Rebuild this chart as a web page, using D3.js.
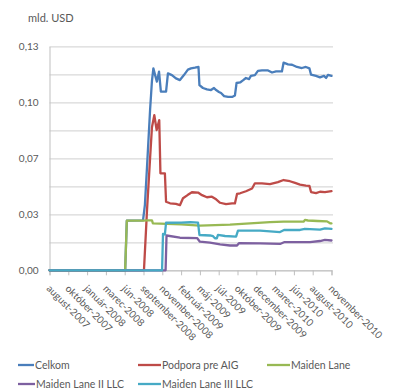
<!DOCTYPE html>
<html>
<head>
<meta charset="utf-8">
<script src="https://cdn.jsdelivr.net/npm/d3@7"></script>
<style>
  html, body { margin: 0; padding: 0; background: #fff; }
  svg { display: block; font-family: Lato, "Open Sans", sans-serif; }
  text { fill: #595959; }
</style>
</head>
<body>
<svg id="chart" width="398" height="392"></svg>
<script>
// Days are counted from 1 August 2007; values are in billions of USD.
const xTickDays = [0, 80, 160, 240, 320, 400, 480, 560, 640, 720, 800, 880, 960, 1040, 1120, 1200];
const xTickLabels = ["august-2007", "október-2007", "január-2008", "marec-2008", "jún-2008",
  "september-2008", "november-2008", "február-2009", "máj-2009", "júl-2009", "október-2009",
  "december-2009", "marec-2010", "jún-2010", "august-2010", "november-2010"];

const gridValues = [0, 0.01625, 0.0325, 0.04875, 0.065, 0.08125, 0.0975, 0.11375, 0.13];
const yTickValues = [0, 0.0325, 0.065, 0.0975, 0.13];
const yTickLabels = ["0,00", "0,03", "0,07", "0,10", "0,13"];

const seriesNames = ["Celkom", "Podpora pre AIG", "Maiden Lane", "Maiden Lane II LLC", "Maiden Lane III LLC"];
const seriesColors = ["#4A7EBB", "#BE4B48", "#98B954", "#7D60A0", "#46AAC5"];

const celkom = [[0,0],[322,0],[329,0.0288],[398,0.029],[406,0.038],[415,0.060],[428,0.093],[436,0.110],
  [442,0.1172],[450,0.113],[457,0.1095],[466,0.1153],[474,0.1037],[496,0.1037],[504,0.1143],[521,0.1133],
  [538,0.1114],[555,0.1104],[572,0.1133],[589,0.1165],[602,0.1172],[619,0.1176],[634,0.118],[638,0.1075],
  [653,0.1058],[670,0.105],[687,0.1046],[700,0.1058],[709,0.1046],[721,0.1035],[730,0.1029],[743,0.1011],
  [760,0.1006],[777,0.1006],[789,0.1014],[796,0.1087],[811,0.109],[823,0.1102],[836,0.1116],[849,0.111],
  [857,0.1128],[874,0.1133],[887,0.1157],[904,0.116],[930,0.116],[947,0.1148],[964,0.1154],[989,0.1154],
  [996,0.1205],[1015,0.1195],[1032,0.1193],[1053,0.118],[1074,0.1174],[1091,0.118],[1106,0.1172],
  [1113,0.1135],[1134,0.1128],[1151,0.112],[1168,0.1128],[1177,0.1116],[1185,0.1134],[1200,0.1128]];

const podporaAIG = [[0,0],[402,0],[415,0.035],[428,0.065],[436,0.083],[446,0.090],[456,0.0814],[467,0.0872],
  [472,0.0563],[491,0.0563],[496,0.0398],[513,0.0389],[538,0.0385],[555,0.0378],[568,0.0418],[589,0.0438],
  [606,0.0453],[632,0.0451],[649,0.0436],[670,0.0424],[691,0.0427],[709,0.0412],[726,0.0392],[751,0.0384],
  [777,0.0388],[789,0.0388],[798,0.0443],[811,0.0447],[836,0.0459],[862,0.0475],[874,0.0505],[904,0.0505],
  [938,0.050],[972,0.0512],[996,0.0524],[1023,0.0517],[1045,0.0507],[1066,0.0497],[1091,0.0492],
  [1106,0.049],[1113,0.0454],[1134,0.0448],[1151,0.0456],[1172,0.0454],[1200,0.0459]];

const maidenLane = [[0,0],[322,0],[329,0.0288],[400,0.0288],[415,0.029],[436,0.029],[440,0.0272],
  [560,0.0266],[640,0.0259],[768,0.0265],[938,0.028],[996,0.0282],[1081,0.0282],[1087,0.0292],
  [1100,0.0289],[1140,0.0286],[1181,0.0284],[1194,0.0273],[1200,0.0272]];

const maidenLaneII = [[0,0],[494,0],[498,0.0202],[555,0.0189],[628,0.0187],[640,0.0166],[683,0.0161],
  [726,0.0151],[768,0.0144],[798,0.0144],[806,0.0157],[896,0.0156],[981,0.0153],[998,0.0163],
  [1108,0.0164],[1151,0.017],[1172,0.0176],[1200,0.0173]];

const maidenLaneIII = [[0,0],[479,0],[483,0.0211],[491,0.0208],[496,0.0276],[560,0.0277],[600,0.0279],
  [632,0.0277],[638,0.0205],[683,0.0202],[696,0.0198],[704,0.0186],[712,0.0186],[717,0.0205],[747,0.0199],
  [794,0.0195],[802,0.023],[896,0.023],[981,0.0222],[998,0.0234],[1066,0.0234],[1087,0.0241],
  [1151,0.0236],[1172,0.0243],[1200,0.024]];

const seriesData = [celkom, podporaAIG, maidenLane, maidenLaneII, maidenLaneIII];

const svg = d3.select("#chart");
const plot = { left: 49.5, right: 331.5, top: 46.3, bottom: 270.3 };

const x = d3.scaleLinear().domain([0, 1200]).range([plot.left, plot.right]);
const y = d3.scaleLinear().domain([0, 0.13]).range([plot.bottom, plot.top]);

// unit label
svg.append("text").attr("x", 28).attr("y", 22).attr("font-size", 11).text("mld. USD");

// horizontal gridlines
svg.append("g")
  .attr("transform", `translate(${plot.left},0)`)
  .call(d3.axisLeft(y).tickValues(gridValues).tickSize(-(plot.right - plot.left + 1.5)).tickFormat(""))
  .call(g => g.select(".domain").remove())
  .call(g => g.selectAll(".tick line").attr("stroke", "#d9d9d9").attr("stroke-width", 1.3));

// y axis with labels
svg.append("g")
  .attr("transform", `translate(${plot.left},0)`)
  .call(d3.axisLeft(y).tickValues(yTickValues).tickSize(0).tickPadding(11)
    .tickFormat((d, i) => yTickLabels[i]))
  .call(g => g.select(".domain").attr("stroke", "#bfbfbf").attr("stroke-width", 1))
  .call(g => g.selectAll(".tick text").attr("font-size", 10).attr("fill", "#595959")
    .attr("font-family", "Lato, 'Open Sans', sans-serif"));

// x axis with rotated month labels
const xAxis = svg.append("g")
  .attr("transform", `translate(0,${plot.bottom})`)
  .call(d3.axisBottom(x).tickValues(xTickDays).tickSize(5).tickFormat((d, i) => xTickLabels[i]))
  .call(g => g.select(".domain").attr("stroke", "#bfbfbf"))
  .call(g => g.selectAll(".tick line").attr("stroke", "#bfbfbf"));
xAxis.selectAll(".tick text")
  .attr("font-size", 10)
  .attr("fill", "#595959")
  .attr("font-family", "Lato, 'Open Sans', sans-serif")
  .attr("text-anchor", "start")
  .attr("dy", null)
  .attr("y", 0)
  .attr("transform", "translate(-4,19) rotate(45)");

// series lines
const line = d3.line().x(d => x(d[0])).y(d => y(d[1]));
svg.append("g").selectAll("path")
  .data(seriesData)
  .join("path")
  .attr("d", line)
  .attr("fill", "none")
  .attr("stroke", (d, i) => seriesColors[i])
  .attr("stroke-width", 2.3)
  .attr("stroke-linejoin", "round")
  .attr("stroke-linecap", "round");

// legend
const legendPos = [[18, 365, 16], [138, 365, 23], [267, 365, 23], [18, 384, 17], [138, 384, 23]];
const legend = svg.append("g").selectAll("g")
  .data(seriesNames)
  .join("g")
  .attr("transform", (d, i) => `translate(${legendPos[i][0]},${legendPos[i][1]})`);
legend.append("line")
  .attr("x1", 0).attr("x2", (d, i) => legendPos[i][2])
  .attr("stroke", (d, i) => seriesColors[i]).attr("stroke-width", 2.3);
legend.append("text")
  .attr("x", (d, i) => legendPos[i][2] + 1)
  .attr("dy", "0.35em")
  .attr("font-size", 10.5)
  .text(d => d);
</script>
</body>
</html>
